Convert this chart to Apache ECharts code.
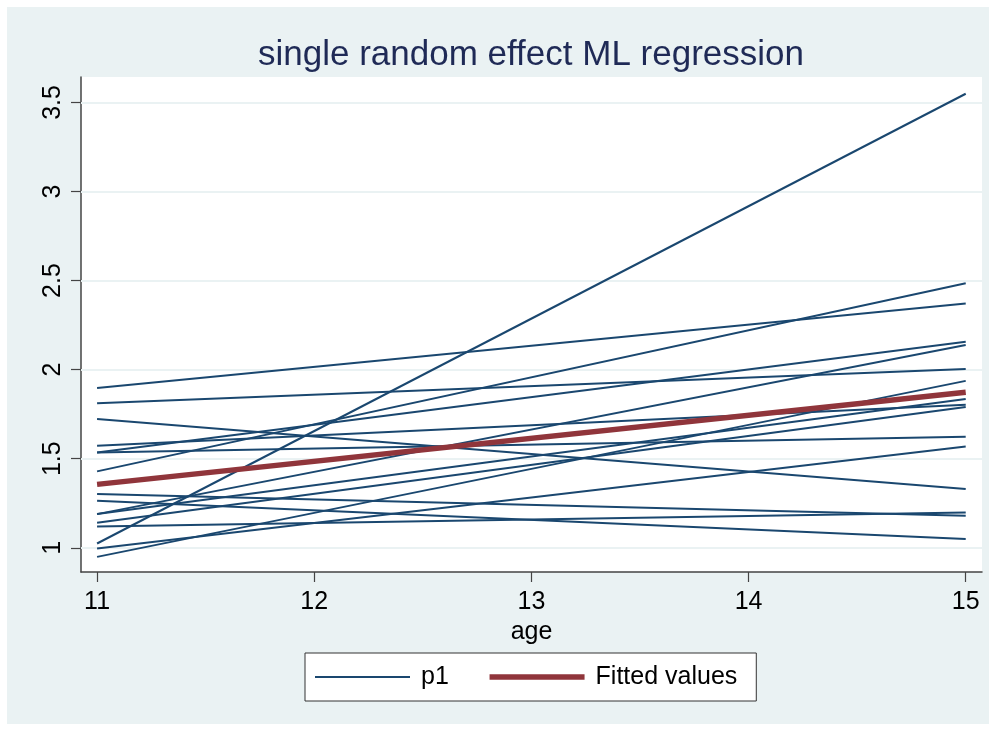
<!DOCTYPE html>
<html>
<head>
<meta charset="utf-8">
<script src="https://cdn.jsdelivr.net/npm/echarts@6/dist/echarts.min.js"></script>
<style>
  html, body { margin: 0; padding: 0; background: #ffffff; }
  #chart { width: 996px; height: 731px; }
</style>
</head>
<body>
<div id="chart"></div>
<script>
// ---- data ----
const ages = [11, 15];
// predicted p1 per individual at age 11 and at age 15 (straight lines)
const p1At11 = [1.024, 1.897, 1.429, 1.811, 1.535, 1.189, 1.535, 1.723, 1.573, 1.189, 1.140, 0.949, 1.302, 1.264, 1.120, 0.996];
const p1At15 = [3.549, 2.372, 2.485, 2.004, 2.157, 2.139, 1.624, 1.330, 1.803, 1.835, 1.790, 1.937, 1.180, 1.049, 1.198, 1.569];
const fittedValues = [1.356, 1.873];
const xTicks = [11, 12, 13, 14, 15];
const yTicks = [1, 1.5, 2, 2.5, 3, 3.5];
const titleText = 'single random effect ML regression';
const xName = 'age';
const seriesNames = ['p1', 'Fitted values'];

const FONT = 'Liberation Sans, Arial, sans-serif';
const NAVY = '#1a476f';
const MAROON = '#90353b';
const BG = '#eaf2f3';

const chart = echarts.init(document.getElementById('chart'), null, { renderer: 'canvas' });

const series = [];
// gridlines drawn through the y scale
series.push({
  name: 'grid',
  type: 'line',
  data: [],
  z: 1,
  silent: true,
  markLine: {
    z: 1,
    silent: true,
    symbol: ['none', 'none'],
    label: { show: false },
    emphasis: { disabled: true },
    lineStyle: { type: 'solid', color: BG, width: 2 },
    data: yTicks.map(v => ({ yAxis: v }))
  }
});
for (let i = 0; i < p1At11.length; i++) {
  series.push({
    name: seriesNames[0],
    type: 'line',
    symbol: 'none',
    z: 3,
    lineStyle: { color: NAVY, width: 2 },
    itemStyle: { color: NAVY },
    data: [[ages[0], p1At11[i]], [ages[1], p1At15[i]]]
  });
}
series.push({
  name: seriesNames[1],
  type: 'line',
  symbol: 'none',
  z: 4,
  lineStyle: { color: MAROON, width: 5.5 },
  itemStyle: { color: MAROON },
  data: [[ages[0], fittedValues[0]], [ages[1], fittedValues[1]]]
});

const option = {
  animation: false,
  backgroundColor: '#ffffff',
  graphic: [
    { type: 'rect', z: -10, shape: { x: 7, y: 7, width: 982, height: 717 }, style: { fill: BG } },
    { type: 'text', z: 10, x: 531, y: 38,
      style: { text: titleText, font: '35px ' + FONT, fill: '#1f2a56', textAlign: 'center', textVerticalAlign: 'top' } }
  ],
  grid: {
    left: 81, right: 14, top: 77, bottom: 159,
    show: true, backgroundColor: '#ffffff', borderWidth: 0
  },
  legend: {
    data: [
      { name: seriesNames[0], lineStyle: { width: 2, color: NAVY } },
      { name: seriesNames[1], lineStyle: { width: 5.5, color: MAROON } }
    ],
    left: 305, top: 653,
    orient: 'horizontal',
    padding: [11, 19, 11, 9],
    itemGap: 38,
    itemWidth: 95,
    itemHeight: 14,
    itemStyle: { opacity: 0, borderWidth: 0 },
    backgroundColor: '#ffffff',
    borderColor: '#333333',
    borderWidth: 1,
    borderRadius: 0,
    textStyle: { fontSize: 25, fontFamily: FONT, color: '#000', padding: [0, 0, 0, 6], lineHeight: 26 }
  },
  xAxis: {
    type: 'value',
    min: 10.926, max: 15.075,
    name: xName,
    nameLocation: 'middle',
    nameGap: 38,
    nameTextStyle: { fontSize: 25, fontFamily: FONT, color: '#000' },
    axisLine: { show: true, lineStyle: { color: '#444', width: 1.5 } },
    axisTick: { show: true, inside: false, length: 10, customValues: xTicks, lineStyle: { color: '#444', width: 1.2 } },
    axisLabel: { customValues: xTicks, margin: 18, fontSize: 25, fontFamily: FONT, color: '#000' },
    splitLine: { show: false }
  },
  yAxis: {
    type: 'value',
    min: 0.864, max: 3.643,
    axisLine: { show: true, lineStyle: { color: '#444', width: 1.5 } },
    axisTick: { show: true, inside: false, length: 10, customValues: yTicks, lineStyle: { color: '#444', width: 1.2 } },
    axisLabel: { customValues: yTicks, rotate: 90, margin: 15, fontSize: 25, fontFamily: FONT, color: '#000' },
    splitLine: { show: false }
  },
  series: series
};
chart.setOption(option);
</script>
</body>
</html>
